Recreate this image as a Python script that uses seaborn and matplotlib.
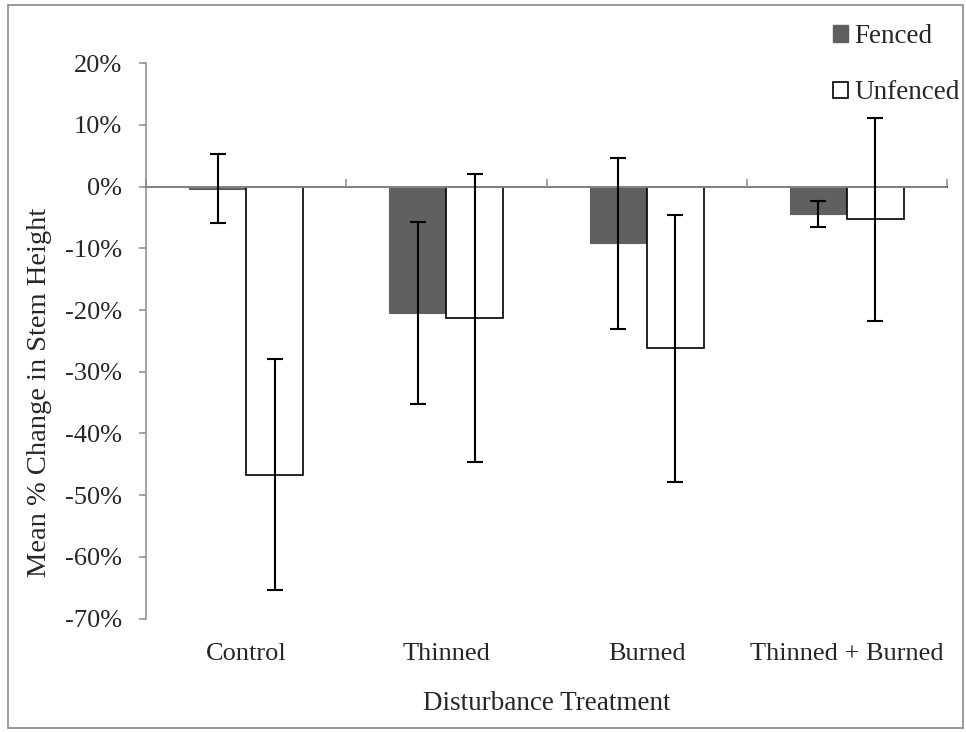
import numpy as np
import pandas as pd
import matplotlib
matplotlib.use("Agg")
import matplotlib.pyplot as plt
import matplotlib.patches as mpatches
from matplotlib.ticker import PercentFormatter
import seaborn as sns

# -----------------------------
# Data
# -----------------------------
treatments = ["Control", "Thinned", "Burned", "Thinned + Burned"]
groups = ["Fenced", "Unfenced"]
fenced_mean = [-0.3, -20.5, -9.2, -4.4]
fenced_err = [5.6, 14.7, 13.8, 2.1]
unfenced_mean = [-46.7, -21.3, -26.2, -5.3]
unfenced_err = [18.7, 23.3, 21.6, 16.4]
y_ticks = [20, 10, 0, -10, -20, -30, -40, -50, -60, -70]

df = pd.DataFrame({
    "treatment": treatments * 2,
    "group": ["Fenced"] * 4 + ["Unfenced"] * 4,
    "mean": fenced_mean + unfenced_mean,
    "err": fenced_err + unfenced_err,
})

# -----------------------------
# Style
# -----------------------------
sns.set_theme(style="white")
plt.rcParams["font.family"] = ["Liberation Serif", "DejaVu Serif"]
plt.rcParams["font.size"] = 19
plt.rcParams["axes.unicode_minus"] = False
axis_grey = "#8a8a8a"
bar_grey = "#606060"

fig = plt.figure(figsize=(9.66, 7.32), dpi=100)
ax = fig.add_axes([146 / 966, 1 - 618.5 / 732, 801 / 966, (618.5 - 63.3) / 732])

sns.barplot(data=df, x="treatment", y="mean", hue="group",
            order=treatments, hue_order=groups, errorbar=None,
            width=0.57, palette=[bar_grey, "white"], ax=ax, legend=False,
            zorder=2)

# bar edges + error bars
for cont, g in zip(ax.containers, groups):
    sub = df[df["group"] == g].set_index("treatment").loc[treatments]
    xs = []
    for p in cont.patches:
        if g == "Fenced":
            p.set_edgecolor(bar_grey)
            p.set_linewidth(0.8)
        else:
            p.set_edgecolor("black")
            p.set_linewidth(1.2)
        xs.append(p.get_x() + p.get_width() / 2)
    ax.errorbar(xs, sub["mean"], yerr=sub["err"], fmt="none",
                ecolor="black", elinewidth=1.5, capsize=6, capthick=1.5,
                zorder=4)

ax.set_ylim(-70, 20)
ax.set_xlim(-0.5, 3.5)
ax.set_yticks(y_ticks)
ax.yaxis.set_major_formatter(PercentFormatter(decimals=0))

for s in ["top", "right", "bottom"]:
    ax.spines[s].set_visible(False)
ax.spines["left"].set_color(axis_grey)
ax.spines["left"].set_linewidth(1.1)
ax.tick_params(axis="y", direction="out", length=5, width=1.1,
               color=axis_grey, pad=12, left=True, labelsize=19)
ax.tick_params(axis="x", length=0, pad=18, labelsize=19)

# zero line with category-boundary ticks
zero_loc = (0 - (-70)) / 90
ax.axhline(0, color=axis_grey, lw=1.3, zorder=3)
sec = ax.secondary_xaxis(zero_loc)
sec.set_xticks(np.arange(-0.5, 4.0, 1.0))
sec.set_xticklabels([])
sec.tick_params(direction="out", length=6, width=1.1, color=axis_grey)
sec.spines["bottom"].set_visible(False)

ax.set_xlabel("Disturbance Treatment", fontsize=19.5, labelpad=18)
ax.set_ylabel("Mean % Change in Stem Height", fontsize=20.5)
ax.yaxis.set_label_coords(-0.117, 0.408)

handles = [mpatches.Patch(facecolor=bar_grey, edgecolor=bar_grey, label="Fenced"),
           mpatches.Patch(facecolor="white", edgecolor="black", lw=1.2, label="Unfenced")]
fig.legend(handles=handles, loc="upper left", bbox_to_anchor=(0.862, 0.967),
           frameon=False, fontsize=19.5, handlelength=0.55, handleheight=0.55,
           handletextpad=0.25, labelspacing=1.15, borderpad=0, borderaxespad=0)

# outer chart border
fig.patches.append(mpatches.Rectangle((8 / 966, 4 / 732), 955 / 966, 723 / 732,
                                      transform=fig.transFigure, fill=False,
                                      edgecolor=axis_grey, lw=1.2))

fig.savefig("out.png", dpi=100)
